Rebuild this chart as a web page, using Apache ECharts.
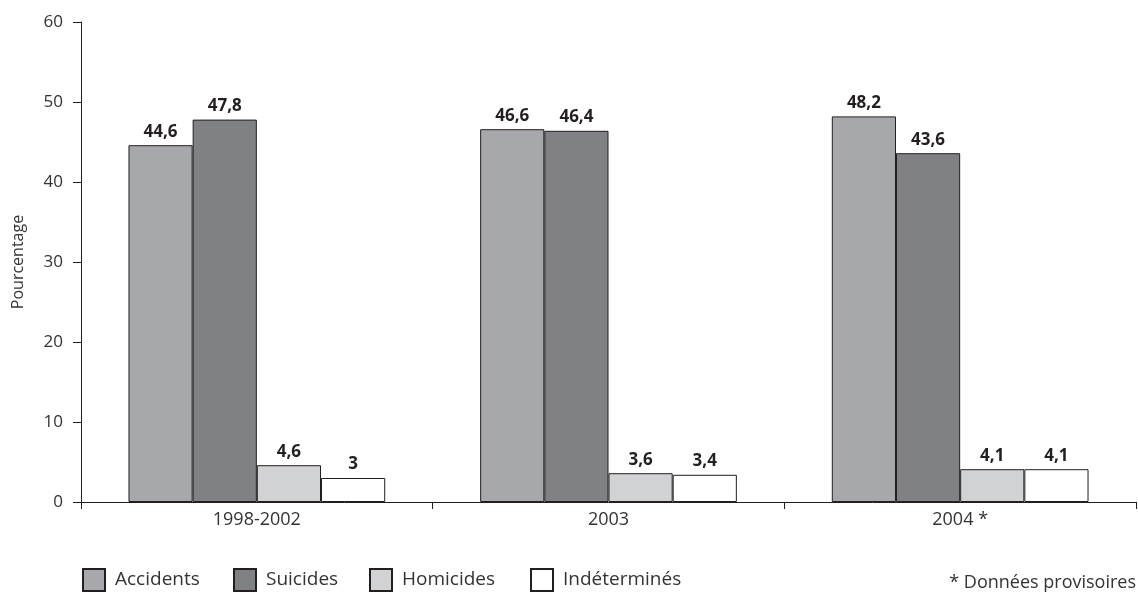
<!DOCTYPE html>
<html>
<head>
<meta charset="utf-8">
<script src="https://cdn.jsdelivr.net/npm/echarts@6/dist/echarts.min.js"></script>
<style>
html,body{margin:0;padding:0;background:#fff;}
#chart{width:1138px;height:593px;}
</style>
</head>
<body>
<div id="chart"></div>
<script>
const categories = ['1998-2002', '2003', '2004 *'];
const seriesNames = ['Accidents', 'Suicides', 'Homicides', 'Indéterminés'];
const accidents = [44.6, 46.6, 48.2];
const suicides = [47.8, 46.4, 43.6];
const homicides = [4.6, 3.6, 4.1];
const indetermines = [3, 3.4, 4.1];
const yTicks = [0, 10, 20, 30, 40, 50, 60];
const yAxisName = 'Pourcentage';
const noteText = '* Données provisoires';

const colors = ['#a7a8ab', '#808184', '#d1d2d4', '#ffffff'];
const dataSets = [accidents, suicides, homicides, indetermines];
const legendLeft = [82, 233, 369, 530];
const FONT = '"Open Sans", "Noto Sans", sans-serif';

const chart = echarts.init(document.getElementById('chart'));
chart.setOption({
  animation: false,
  textStyle: { fontFamily: FONT },
  grid: { left: 81, right: 2, top: 22, bottom: 91 },
  legend: seriesNames.map((name, i) => ({
    left: legendLeft[i], top: 568,
    padding: 0,
    itemWidth: 22, itemHeight: 22,
    icon: 'rect',
    data: [name],
    textStyle: { fontSize: 19, color: '#333', fontFamily: FONT, padding: [3, 0, 0, 5] }
  })),
  xAxis: {
    type: 'category',
    data: categories,
    axisLine: { lineStyle: { color: '#231f20', width: 1 } },
    axisTick: { show: true, length: 7, lineStyle: { color: '#231f20' } },
    axisLabel: { fontSize: 18, color: '#333', margin: 9, fontFamily: FONT },
    splitLine: { show: false }
  },
  yAxis: {
    type: 'value',
    min: yTicks[0], max: yTicks[yTicks.length - 1], interval: 10,
    name: yAxisName,
    nameLocation: 'middle',
    nameGap: 55,
    nameRotate: 90,
    nameTextStyle: { fontSize: 16, color: '#333', fontFamily: FONT },
    axisLine: { show: true, lineStyle: { color: '#231f20', width: 1 } },
    axisTick: { show: true, length: 8, lineStyle: { color: '#231f20' } },
    axisLabel: { fontSize: 17, color: '#333', margin: 18, fontFamily: FONT },
    splitLine: { show: false }
  },
  series: seriesNames.map((name, i) => ({
    name: name,
    type: 'bar',
    data: dataSets[i],
    barGap: '0%',
    barCategoryGap: '27%',
    itemStyle: { color: colors[i], borderColor: '#231f20', borderWidth: 1 },
    label: {
      show: true,
      position: 'top',
      distance: 5,
      fontSize: 17,
      fontWeight: 'bold',
      color: '#231f20',
      fontFamily: FONT,
      formatter: p => String(p.value).replace('.', ',')
    }
  })),
  graphic: [{
    type: 'text',
    right: 2,
    top: 574,
    style: { text: noteText, fontSize: 18, fill: '#333', fontFamily: FONT }
  }]
});
</script>
</body>
</html>
